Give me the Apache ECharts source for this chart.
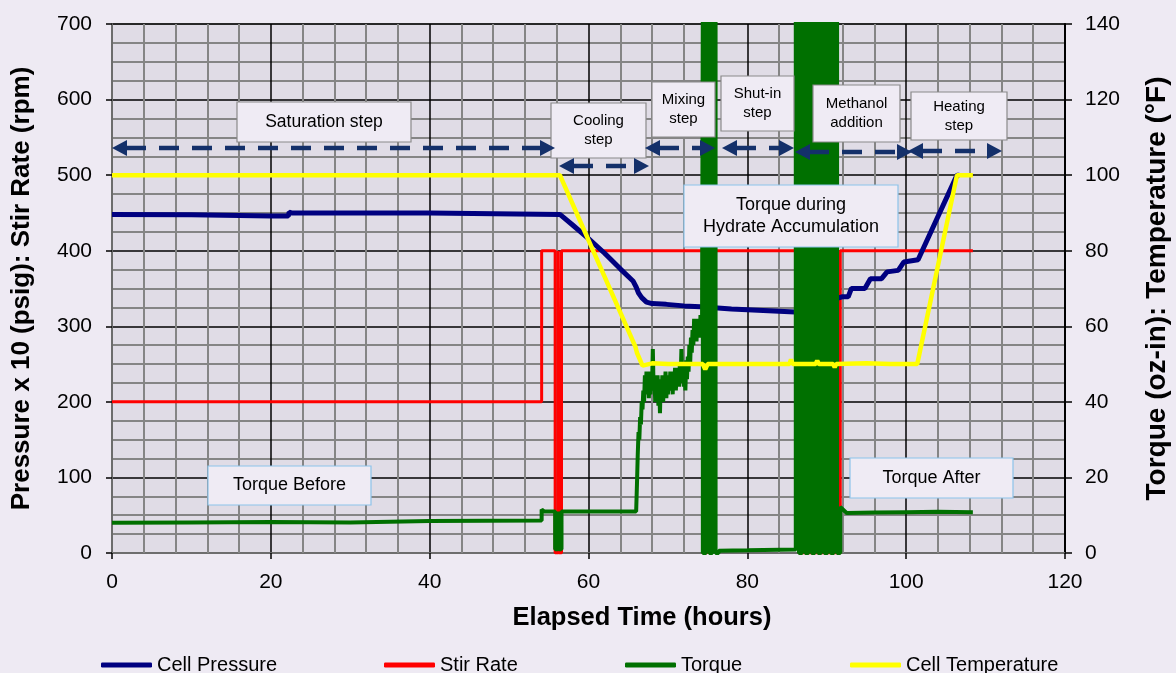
<!DOCTYPE html>
<html><head><meta charset="utf-8">
<script src="https://cdn.jsdelivr.net/npm/echarts@6/dist/echarts.min.js"></script>
<style>html,body{margin:0;padding:0;background:#eeeaf3}#c{width:1176px;height:673px}</style>
</head><body><div id="c"></div><script>
// ---- data (hours, values) ----
const pressureT = [0,10,20,22.2,22.3,22.6,40,56.4,58,60,62,64,65.6,66.0,66.3,66.7,67.3,68,69.8,72,74.1,78,82,86,91.9,92.7,93.1,94.8,95.5,96.9,97.6,99.0,99.7,101.5,106.4,106.7];
const pressureV = [448,447.5,446,446,451,450,450,448,434,416,397,376,360,352,344,338,332,330,329,327,326,323,321,319,339,339,350,350,363,363,372,374,385,388,500,500];

const stirT = [0,54.1,54.1,55.8,55.8,56.2,56.2,56.3,56.3,56.6,56.6,74.4,74.4,74.9,74.9,86.5,86.5,91.7,91.7,108.4];
const stirV = [200,200,400,400,0,0,400,400,0,0,400,400,0,0,400,400,0,0,400,400];

const torqueT = [0,10,20,30,40,54.1,54.1,54.4,55.8,55.8,56.2,56.2,56.3,56.3,56.6,56.6,60,66.0,
  66.1,66.2,66.3,66.4,66.5,66.6,66.7,66.8,66.9,67.0,67.1,67.2,67.3,67.4,67.5,67.6,67.7,67.8,67.9,
  68.0,68.1,68.2,68.3,68.4,68.5,68.6,68.7,68.8,68.9,69.0,69.1,69.2,69.3,69.4,69.5,69.6,69.7,69.8,69.9,
  70.0,70.1,70.2,70.3,70.4,70.5,70.6,70.7,70.8,70.9,71.0,71.1,71.2,71.3,71.4,71.5,71.6,71.7,71.8,71.9,
  72.0,72.1,72.2,72.3,72.4,72.5,72.6,72.7,72.8,72.9,73.0,73.1,73.2,73.3,73.4,73.5,73.6,73.7,73.8,73.9,
  74.0,74.1,74.2,74.3,
  74.4,74.4,74.8,74.8,75.2,75.2,75.6,75.6,76.0,76.0,76.4,76.4,
  80,86.1,
  86.1,86.5,86.5,86.9,86.9,87.3,87.3,87.7,87.7,88.1,88.1,88.5,88.5,88.9,88.9,89.3,89.3,89.7,89.7,90.1,90.1,90.5,90.5,90.9,90.9,91.3,91.3,91.7,91.7,
  91.9,92.5,96,100,104,108.4];
const torqueV = [8,8.1,8.2,8.1,8.5,8.6,11.5,11,11,1,1,11,11,1,1,11,11,11,
  18,26,32,30,36,34,40,38,43,40,47,42,48,43,47,41,48,42,46,
  44,54,43,47,40,46,41,47,39,45,37,46,41,47,40,46,42,48,41,46,
  42,47,43,48,44,47,42,48,44,49,43,48,45,49,44,50,46,54,45,49,
  44,50,43,51,46,52,48,55,50,57,53,59,55,62,57,61,56,62,58,61,
  57,63,59,62,
  150,0,0,150,150,0,0,150,150,0,0,0.6,
  0.7,0.9,
  150,150,0,0,150,150,0,0,150,150,0,0,150,150,0,0,150,150,0,0,150,150,0,0,150,150,0,0,12.2,
  12.2,10.6,10.7,10.8,10.9,10.8];

const tempT = [0,56.4,65.9,66.1,66.8,68,70,72,74.4,74.7,75.0,78,82,85.3,85.5,85.7,88.6,88.8,89.0,90.8,91.0,91.2,95,98,101.4,106.4,108.4];
const tempV = [100,100,54.6,53,49.6,50.2,50,50,50,48.6,50,50,50,50,51.2,50,50,50.9,50,50,49.2,50,50.2,50,50,100,100];

const seriesNames = ['Cell Pressure','Stir Rate','Torque','Cell Temperature'];
const xTickMax = 120, yLeftMax = 700, yRightMax = 140;

const zip = (t, v) => t.map((x, i) => [x, v[i]]);

const chart = echarts.init(document.getElementById('c'), null, {renderer: 'canvas'});
const FONT = '"Liberation Sans", Arial, sans-serif';

function box(x, y, w, h, text, size, stroke, lh) {
  return [
    {type: 'rect', z: 100, shape: {x, y, width: w, height: h},
      style: {fill: '#efebf4', stroke, lineWidth: 1.2}},
    {type: 'text', z: 101, x: x + w / 2, y: y + h / 2,
      style: {text, fill: '#000', font: size + 'px ' + FONT, align: 'center', verticalAlign: 'middle', lineHeight: lh || size + 3}}
  ];
}
function arrow(x1, x2, y) {
  const c = '#14306a', hl = 15, hw = 8;
  return [
    {type: 'line', z: 100, shape: {x1: x1 + hl - 1, y1: y, x2: x2 - hl + 1, y2: y},
      style: {stroke: c, lineWidth: 4.5, lineDash: [20, 13]}},
    {type: 'polygon', z: 100, shape: {points: [[x1, y], [x1 + hl, y - hw], [x1 + hl, y + hw]]}, style: {fill: c}},
    {type: 'polygon', z: 100, shape: {points: [[x2, y], [x2 - hl, y - hw], [x2 - hl, y + hw]]}, style: {fill: c}}
  ];
}
const stageBorder = '#8a8a8a', torqueBorder = '#8cc3ea';
const graphics = [].concat(
  box(237, 102, 174, 40, 'Saturation step', 17.5, stageBorder),
  box(551, 103, 95, 55, 'Cooling\nstep', 15, stageBorder, 19),
  box(652, 82, 63, 55, 'Mixing\nstep', 15, stageBorder, 19),
  box(721, 76, 73, 55, 'Shut-in\nstep', 15, stageBorder, 19),
  box(813, 85, 87, 57, 'Methanol\naddition', 15, stageBorder, 19),
  box(911, 92, 96, 48, 'Heating\nstep', 15, stageBorder, 19),
  box(684, 185, 214, 62, 'Torque during\nHydrate Accumulation', 18, torqueBorder, 22),
  box(208, 466, 163, 39, 'Torque Before', 18, torqueBorder),
  box(850, 458, 163, 40, 'Torque After', 18, torqueBorder),
  arrow(112, 555, 148),
  arrow(559, 649, 166),
  arrow(645, 715, 148),
  arrow(722, 794, 148),
  arrow(795, 912, 152),
  arrow(908, 1002, 151)
);

const colors = ['#000080', '#ff0000', '#007000', '#ffff00'];
const legendLefts = [96, 379, 620, 845];

chart.setOption({
  animation: false,
  backgroundColor: '#eeeaf3',
  grid: {left: 112, right: 111, top: 24, bottom: 120, containLabel: false, outerBoundsMode: 'none',
    show: true, backgroundColor: '#e0dce6', borderColor: '#858585', borderWidth: 1.5},
  legend: seriesNames.map((n, i) => ({
    data: [n], left: legendLefts[i], top: 650, icon: 'roundRect', itemWidth: 51, itemHeight: 5,
    itemGap: 0, textStyle: {fontSize: 20, fontFamily: FONT, color: '#000', padding: [0, 0, 0, 0]}
  })),
  xAxis: {
    type: 'value', min: 0, max: xTickMax, interval: 20,
    name: 'Elapsed Time (hours)', nameLocation: 'middle', nameGap: 52,
    nameTextStyle: {fontSize: 25.5, fontWeight: 'bold', fontFamily: FONT, color: '#000', padding: [0, 0, 0, 107]},
    axisLine: {show: true, lineStyle: {color: '#858585', width: 1.5}},
    axisTick: {show: true, length: 6, lineStyle: {color: '#000', width: 1.5}},
    axisLabel: {fontSize: 21, fontFamily: FONT, color: '#000', margin: 19},
    splitLine: {show: true, lineStyle: {color: '#000', width: 1.5}},
    minorTick: {show: false, splitNumber: 5},
    minorSplitLine: {show: true, lineStyle: {color: '#858585', width: 2}}
  },
  yAxis: [{
    type: 'value', min: 0, max: yLeftMax, interval: 100, position: 'left',
    name: 'Pressure x 10 (psig): Stir Rate (rpm)', nameLocation: 'middle', nameRotate: 90, nameGap: 77,
    nameTextStyle: {fontSize: 26, fontWeight: 'bold', fontFamily: FONT, color: '#000'},
    axisLine: {show: true, lineStyle: {color: '#858585', width: 1.5}},
    axisTick: {show: true, length: 6, lineStyle: {color: '#000', width: 1.5}},
    axisLabel: {fontSize: 21, fontFamily: FONT, color: '#000', margin: 20},
    splitLine: {show: true, lineStyle: {color: '#000', width: 1.5}},
    minorTick: {show: false, splitNumber: 4},
    minorSplitLine: {show: true, lineStyle: {color: '#858585', width: 2}}
  }, {
    type: 'value', min: 0, max: yRightMax, interval: 20, position: 'right',
    name: 'Torque (oz-in): Temperature (°F)', nameLocation: 'middle', nameRotate: 90, nameGap: 78,
    nameTextStyle: {fontSize: 28, fontWeight: 'bold', fontFamily: FONT, color: '#000'},
    axisLine: {show: true, lineStyle: {color: '#000', width: 2}},
    axisTick: {show: true, length: 7, lineStyle: {color: '#000', width: 1.5}},
    axisLabel: {fontSize: 21, fontFamily: FONT, color: '#000', margin: 20},
    splitLine: {show: false}
  }],
  series: [
    {name: seriesNames[1], type: 'line', yAxisIndex: 0, z: 2, data: zip(stirT, stirV), color: colors[1],
      showSymbol: false, symbol: 'none', lineStyle: {width: 3, color: colors[1]}},
    {name: seriesNames[0], type: 'line', yAxisIndex: 0, z: 3, data: zip(pressureT, pressureV), color: colors[0],
      showSymbol: false, symbol: 'none', lineStyle: {width: 5, color: colors[0]}},
    {name: seriesNames[2], type: 'line', yAxisIndex: 1, z: 4, data: zip(torqueT, torqueV), color: colors[2],
      showSymbol: false, symbol: 'none', lineStyle: {width: 4, color: colors[2]}},
    {name: seriesNames[3], type: 'line', yAxisIndex: 1, z: 5, data: zip(tempT, tempV), color: colors[3],
      showSymbol: false, symbol: 'none', lineStyle: {width: 4.5, color: colors[3]}}
  ],
  graphic: graphics
});
</script></body></html>
